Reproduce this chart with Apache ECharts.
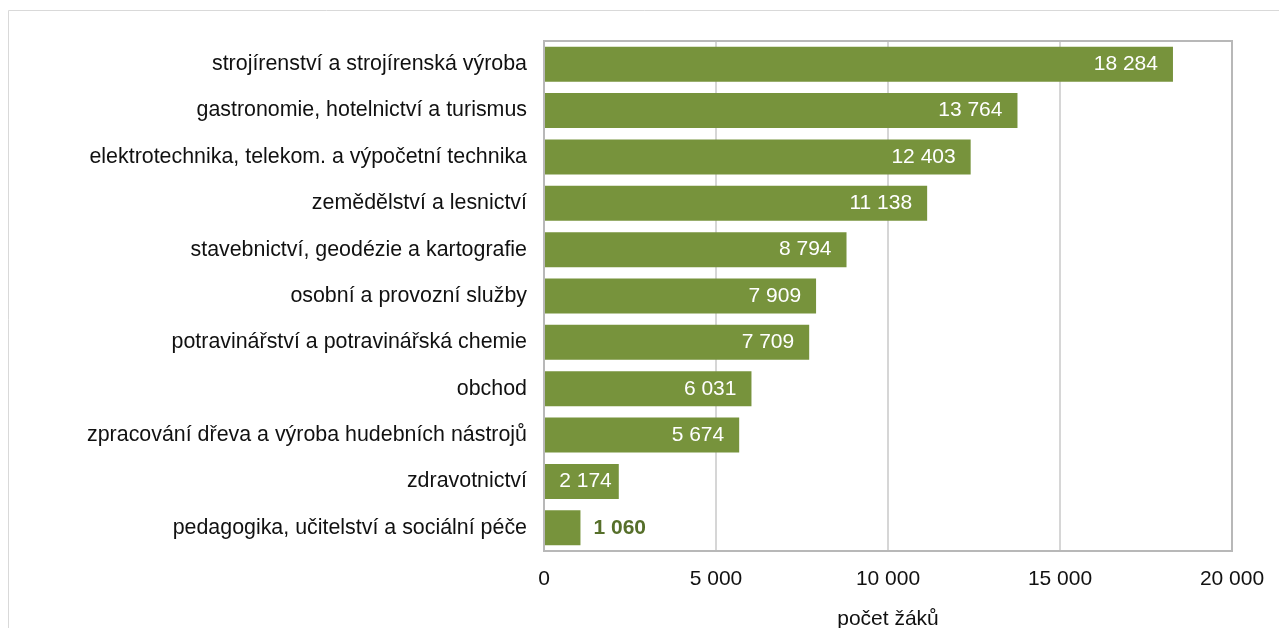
<!DOCTYPE html>
<html><head><meta charset="utf-8">
<script src="https://cdn.jsdelivr.net/npm/echarts@6/dist/echarts.min.js"></script>
<style>html,body{margin:0;padding:0;background:#fff}#c{width:1279px;height:628px}</style>
</head><body><div id="c"></div>
<script>
const categories = [
  "strojírenství a strojírenská výroba",
  "gastronomie, hotelnictví a turismus",
  "elektrotechnika, telekom. a výpočetní technika",
  "zemědělství a lesnictví",
  "stavebnictví, geodézie a kartografie",
  "osobní a provozní služby",
  "potravinářství a potravinářská chemie",
  "obchod",
  "zpracování dřeva a výroba hudebních nástrojů",
  "zdravotnictví",
  "pedagogika, učitelství a sociální péče"
];
const values = [18284, 13764, 12403, 11138, 8794, 7909, 7709, 6031, 5674, 2174, 1060];
const xTicks = [0, 5000, 10000, 15000, 20000];
const axisName = "počet žáků";

const fmt = v => String(v).replace(/\B(?=(\d{3})+(?!\d))/g, ' ');
const font = '"Liberation Sans", Arial, sans-serif';
const FS = 21;
const last = values.length - 1;

const data = values.map((v, i) => {
  if (i === last) {
    return { value: v, label: { position: 'right', distance: 13, color: '#566F2A', fontWeight: 'bold' } };
  }
  if (i === last - 1) {
    return { value: v, label: { distance: 7 } };
  }
  return v;
});

const chart = echarts.init(document.getElementById('c'), null, { renderer: 'canvas' });
chart.setOption({
  animation: false,
  graphic: [{
    type: 'rect', shape: { x: 8.5, y: 10.5, width: 1290, height: 640 },
    style: { fill: 'none', stroke: '#d9d9d9', lineWidth: 1 }, silent: true
  }, {
    type: 'rect', shape: { x: 544, y: 41, width: 688, height: 510 },
    style: { fill: 'none', stroke: '#b8b8b8', lineWidth: 2 }, silent: true, z: 10
  }],
  grid: { left: 544, right: 47, top: 41, bottom: 77, containLabel: false, outerBoundsMode: 'none' },
  xAxis: {
    type: 'value', min: 0, max: 20000, interval: 5000,
    name: axisName, nameLocation: 'middle', nameGap: 58,
    nameTextStyle: { fontFamily: font, fontSize: FS, color: '#111', verticalAlign: 'top' },
    axisLine: { show: false }, axisTick: { show: false },
    axisLabel: { fontFamily: font, fontSize: FS, color: '#111', margin: 18,
      formatter: v => xTicks.includes(v) ? fmt(v) : '' },
    splitLine: { lineStyle: { color: '#c8c8c8', width: 1.5 } }
  },
  yAxis: {
    type: 'category', data: categories, inverse: true,
    axisLine: { show: false }, axisTick: { show: false },
    axisLabel: { fontFamily: font, fontSize: 21.4, color: '#111', margin: 17, padding: [4, 0, 0, 0] }
  },
  series: [{
    type: 'bar', data: data, barCategoryGap: '24.5%',
    itemStyle: { color: '#77933C' },
    label: { show: true, position: 'insideRight', distance: 15, color: '#ffffff',
      fontFamily: font, fontSize: FS, formatter: p => fmt(p.value) }
  }]
});
</script></body></html>
